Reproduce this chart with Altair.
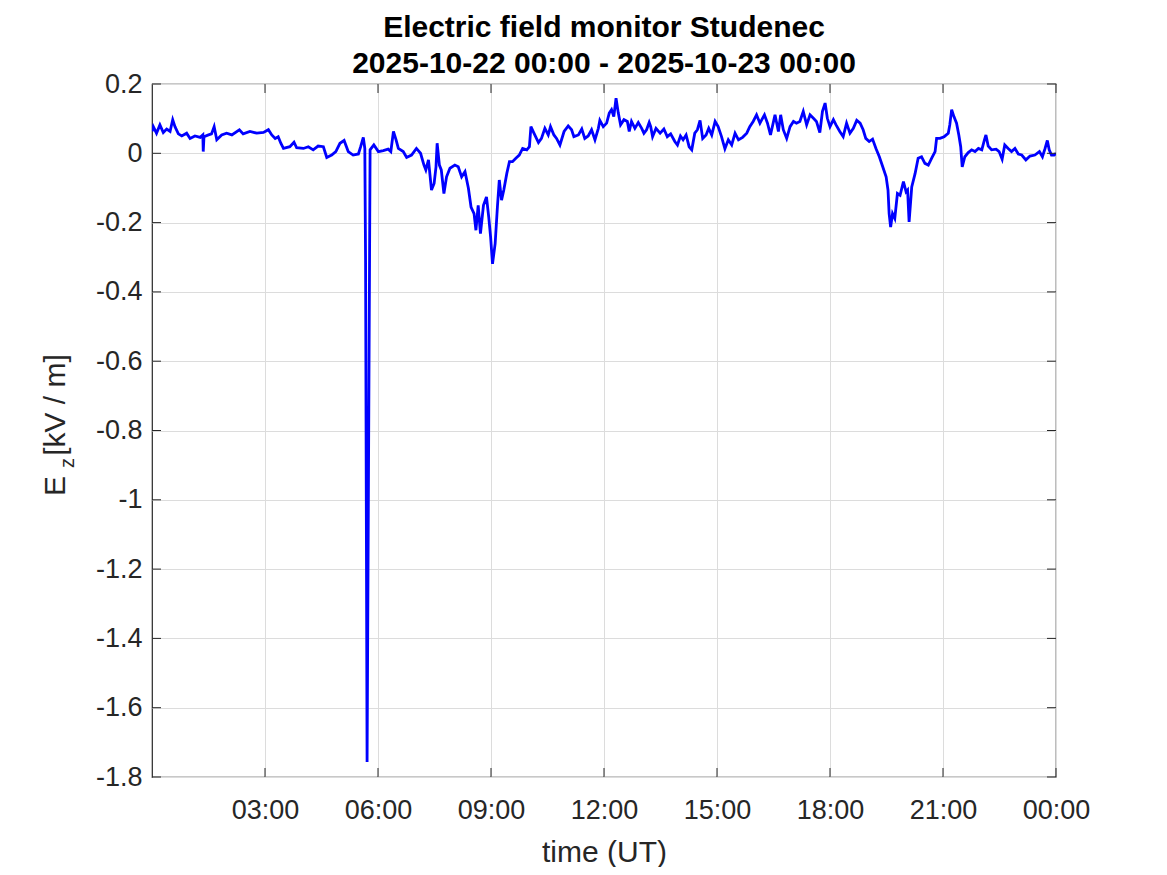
import altair as alt
import pandas as pd

# ---- data (hour of day UT, Ez in kV/m) ----
hours = [
    0.00, 0.035, 0.12, 0.21, 0.30, 0.39, 0.48, 0.55, 0.61, 0.70, 0.79, 0.92, 1.01, 1.14, 1.28,
    1.35, 1.36, 1.38, 1.50, 1.58, 1.65, 1.72, 1.85, 1.98, 2.12, 2.32, 2.42, 2.60, 2.78, 2.96,
    3.09, 3.18, 3.27, 3.35, 3.42, 3.49, 3.66, 3.77, 3.84, 4.02, 4.15, 4.28, 4.41, 4.55, 4.64,
    4.77, 4.88, 4.99, 5.10, 5.21, 5.34, 5.48, 5.54, 5.61, 5.65, 5.67, 5.71, 5.79, 5.89, 6.01,
    6.14, 6.27, 6.34, 6.41, 6.48, 6.54, 6.67, 6.76, 6.89, 7.02, 7.13, 7.22, 7.27,
    7.34, 7.42, 7.49, 7.54, 7.57, 7.63, 7.68, 7.75, 7.82, 7.91, 8.04, 8.13, 8.22, 8.31, 8.40,
    8.47, 8.55, 8.60, 8.66, 8.72, 8.80, 8.88, 8.94, 8.99, 9.04, 9.11, 9.17, 9.22, 9.28, 9.34,
    9.42, 9.49, 9.57, 9.66, 9.75, 9.84, 9.95, 10.02, 10.06, 10.14, 10.26, 10.34, 10.43, 10.52,
    10.58, 10.67, 10.74, 10.83, 10.94, 11.05, 11.14, 11.20, 11.32, 11.41, 11.49, 11.58, 11.67,
    11.76, 11.85, 11.89, 11.98, 12.07, 12.14, 12.20, 12.26, 12.32, 12.38, 12.44, 12.53, 12.62,
    12.67, 12.73, 12.82, 12.91, 13.00, 13.06, 13.13, 13.20,
    13.24, 13.29, 13.38, 13.49, 13.59, 13.68, 13.77, 13.88, 13.95, 14.03, 14.10, 14.18, 14.26,
    14.33, 14.41, 14.48, 14.55, 14.62, 14.71, 14.78, 14.86, 14.95, 15.03, 15.12, 15.21, 15.30,
    15.39, 15.48, 15.57, 15.68, 15.79, 15.87, 15.96, 16.05, 16.14, 16.26, 16.34, 16.42, 16.54,
    16.63, 16.69, 16.76, 16.85, 16.94, 17.03, 17.11, 17.20, 17.29, 17.38, 17.47, 17.56, 17.64,
    17.73, 17.80, 17.87, 17.93, 18.00, 18.09, 18.16, 18.26, 18.35, 18.44, 18.53, 18.62, 18.71,
    18.80, 18.88, 18.95, 19.04, 19.13, 19.22, 19.31, 19.40, 19.49, 19.54, 19.57, 19.61, 19.66,
    19.72, 19.79, 19.86, 19.95, 20.02, 20.06, 20.10, 20.17, 20.26, 20.34, 20.43, 20.52, 20.61,
    20.70, 20.79, 20.83, 20.92, 21.03, 21.14, 21.18, 21.23, 21.29, 21.36, 21.42, 21.47, 21.51,
    21.58, 21.67, 21.76, 21.85, 21.94, 22.03, 22.10, 22.14, 22.20, 22.29, 22.41, 22.49, 22.57,
    22.64, 22.73, 22.82, 22.91, 23.00, 23.09, 23.20, 23.31, 23.44, 23.56, 23.64, 23.71, 23.77,
    23.82, 23.88, 23.95, 24.00,
]
ez = [
    0.063, 0.077, 0.058, 0.082, 0.060, 0.070, 0.063, 0.097, 0.077, 0.056, 0.050, 0.058, 0.043, 0.050, 0.046,
    0.053, 0.005, 0.048, 0.053, 0.056, 0.077, 0.039, 0.053, 0.058, 0.053, 0.068, 0.056, 0.063, 0.058, 0.060,
    0.068, 0.053, 0.043, 0.048, 0.029, 0.014, 0.019, 0.032, 0.016, 0.014, 0.019, 0.010, 0.021, 0.019, -0.012,
    -0.005, 0.005, 0.029, 0.037, 0.005, -0.005, -0.002, 0.019, 0.046, 0.014, -0.310, -1.757, 0.010, 0.024, 0.005,
    0.008, 0.012, 0.005, 0.063, 0.039, 0.014, 0.005, -0.012, -0.005, 0.014, 0.000, -0.034, -0.048,
    -0.019, -0.106, -0.087, -0.039, 0.029, -0.034, -0.048, -0.116, -0.068, -0.043, -0.034, -0.039, -0.068, -0.053, -0.101,
    -0.155, -0.174, -0.222, -0.150, -0.232, -0.150, -0.126, -0.184, -0.242, -0.319, -0.261, -0.155, -0.077, -0.135, -0.106,
    -0.058, -0.024, -0.024, -0.014, -0.005, 0.014, 0.010, 0.019, 0.077, 0.058, 0.031, 0.043, 0.072, 0.053,
    0.077, 0.053, 0.043, 0.024, 0.063, 0.079, 0.068, 0.048, 0.053, 0.070, 0.043, 0.050, 0.068,
    0.039, 0.072, 0.095, 0.077, 0.087, 0.116, 0.126, 0.106, 0.159, 0.116, 0.082, 0.097, 0.092,
    0.063, 0.092, 0.072, 0.089, 0.072, 0.058, 0.068, 0.089,
    0.077, 0.048, 0.072, 0.058, 0.070, 0.048, 0.056, 0.034, 0.024, 0.050, 0.039, 0.053, 0.019,
    0.010, 0.058, 0.068, 0.095, 0.043, 0.053, 0.072, 0.053, 0.092, 0.077, 0.048, 0.013, 0.039,
    0.024, 0.058, 0.039, 0.046, 0.058, 0.077, 0.092, 0.111, 0.087, 0.111, 0.087, 0.053, 0.111,
    0.063, 0.111, 0.068, 0.043, 0.077, 0.092, 0.087, 0.092, 0.121, 0.082, 0.111, 0.101, 0.092,
    0.060, 0.121, 0.145, 0.101, 0.077, 0.097, 0.082, 0.063, 0.048, 0.087, 0.058, 0.072, 0.095,
    0.087, 0.068, 0.043, 0.034, 0.041, 0.014, -0.010, -0.039, -0.068, -0.106, -0.174, -0.213, -0.174,
    -0.188, -0.116, -0.121, -0.082, -0.111, -0.106, -0.198, -0.097, -0.058, -0.014, -0.010, -0.029, -0.034,
    -0.014, 0.005, 0.043, 0.043, 0.048, 0.058, 0.082, 0.126, 0.106, 0.087, 0.053, 0.019, -0.039,
    -0.010, 0.002, 0.010, 0.005, 0.014, 0.010, 0.039, 0.053, 0.021, 0.010, 0.012, 0.005, -0.017,
    0.024, 0.014, 0.005, 0.014, -0.002, -0.005, -0.019, -0.008, -0.005, 0.005, -0.010, 0.014, 0.037,
    0.010, -0.005, -0.005, 0.000,
]
x_tick_hours = [3, 6, 9, 12, 15, 18, 21, 24]
y_tick_values = [0.2, 0, -0.2, -0.4, -0.6, -0.8, -1, -1.2, -1.4, -1.6, -1.8]
title_line1 = "Electric field monitor Studenec"
title_line2 = "2025-10-22 00:00 - 2025-10-23 00:00"

df = pd.DataFrame({"hour": hours, "ez": ez})
xt = pd.DataFrame({"hour": x_tick_hours})
yt = pd.DataFrame({"ez": y_tick_values})

W, H = 904, 693
FONT = "Liberation Sans"
DARK = "#262626"
TL = 9

xscale = alt.Scale(domain=[0, 24], nice=False, zero=False)
yscale = alt.Scale(domain=[-1.8, 0.2], nice=False, zero=False)

x_axis = alt.Axis(values=x_tick_hours,
                  labelExpr="(datum.value % 24 < 10 ? '0' : '') + (datum.value % 24) + ':00'",
                  grid=True, ticks=False, domain=False, labelFlush=False,
                  labelBaseline="alphabetic", labelPadding=41,
                  title="time (UT)", titleBaseline="alphabetic", titleY=84)
y_axis = alt.Axis(values=y_tick_values, labelExpr="'' + datum.value",
                  grid=True, ticks=False, domain=False, labelPadding=10, labelFlush=False,
                  title=None)

X = alt.X("hour:Q", scale=xscale, axis=x_axis)
Y = alt.Y("ez:Q", scale=yscale, axis=y_axis)

line = alt.Chart(df).mark_line(color="#0000FF", strokeWidth=2.8, clip=True).encode(x=X, y=Y)

bottom_ticks = alt.Chart(xt).mark_rule(color=DARK, strokeWidth=1).encode(
    x=X, y=alt.value(H), y2=alt.value(H - TL))
top_ticks = alt.Chart(xt).mark_rule(color=DARK, strokeWidth=1).encode(
    x=X, y=alt.value(0), y2=alt.value(TL))
left_ticks = alt.Chart(yt).mark_rule(color=DARK, strokeWidth=1).encode(
    y=Y, x=alt.value(0), x2=alt.value(TL))
right_ticks = alt.Chart(yt).mark_rule(color=DARK, strokeWidth=1).encode(
    y=Y, x=alt.value(W), x2=alt.value(W - TL))


def text_layer(txt, x, y, size, angle=0, bold=False, color=DARK, baseline="middle"):
    props = dict(fontSize=size, font=FONT, color=color, align="center", baseline=baseline)
    if angle:
        props["angle"] = angle
    if bold:
        props["fontWeight"] = "bold"
    return alt.Chart(pd.DataFrame({"t": [txt]})).mark_text(**props).encode(
        text="t:N", x=alt.value(x), y=alt.value(y))


yt_unit = text_layer("[kV / m]", -96, 321, 30, angle=270)
yt_e = text_layer("E", -96, 402, 30, angle=270)
yt_z = text_layer("z", -84, 379, 20, angle=270)
t1 = text_layer(title_line1, W / 2, -47, 30, bold=True, color="black", baseline="alphabetic")
t2 = text_layer(title_line2, W / 2, -11, 30, bold=True, color="black", baseline="alphabetic")

chart = alt.layer(
    line, bottom_ticks, top_ticks, left_ticks, right_ticks, yt_unit, yt_e, yt_z, t1, t2
).properties(
    width=W, height=H,
    padding={"left": 144, "top": 76, "right": 80, "bottom": 90},
    autosize=alt.AutoSizeParams(type="none"),
).configure_view(
    stroke=DARK, strokeWidth=1.2
).configure_axis(
    gridColor="#DCDCDC", gridWidth=1, labelFont=FONT, labelFontSize=27, labelColor=DARK,
    titleFont=FONT, titleFontSize=30, titleFontWeight="normal", titleColor=DARK
)

chart.save("out.html", embed_options={"renderer": "svg", "actions": False})
